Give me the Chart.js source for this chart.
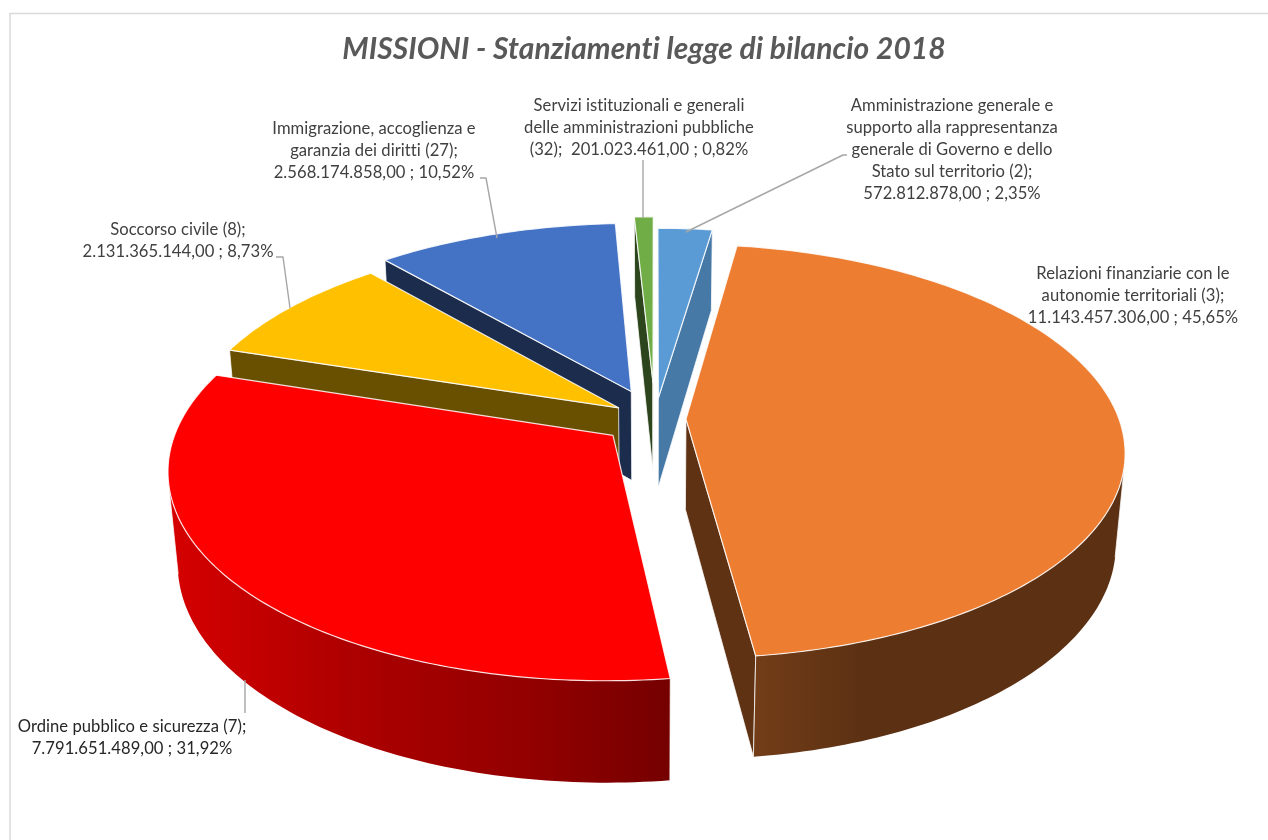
<!DOCTYPE html>
<html>
<head>
<meta charset="utf-8">
<style>
  html, body { margin: 0; padding: 0; background: #fff; overflow: hidden; }
  #wrap { width: 1268px; height: 840px; }
</style>
<script src="https://cdn.jsdelivr.net/npm/chart.js@4"></script>
</head>
<body>
<div id="wrap"><canvas id="pieChart" width="1268" height="840"></canvas></div>
<script>
// Data, clockwise starting from the top of the pie
var categories = [
    'Amministrazione generale e supporto alla rappresentanza generale di Governo e dello Stato sul territorio (2)',
    'Relazioni finanziarie con le autonomie territoriali (3)',
    'Ordine pubblico e sicurezza (7)',
    'Soccorso civile (8)',
    'Immigrazione, accoglienza e garanzia dei diritti (27)',
    'Servizi istituzionali e generali delle amministrazioni pubbliche (32)'
];
var values = [572812878, 11143457306, 7791651489, 2131365144, 2568174858, 201023461];
var labelLines = [
    ['Amministrazione generale e', 'supporto alla rappresentanza', 'generale di Governo e dello', 'Stato sul territorio (2);', '572.812.878,00 ; 2,35%'],
    ['Relazioni finanziarie con le', 'autonomie territoriali (3);', '11.143.457.306,00 ; 45,65%'],
    ['Ordine pubblico e sicurezza (7);', '7.791.651.489,00 ; 31,92%'],
    ['Soccorso civile (8);', '2.131.365.144,00 ; 8,73%'],
    ['Immigrazione, accoglienza e', 'garanzia dei diritti (27);', '2.568.174.858,00 ; 10,52%'],
    ['Servizi istituzionali e generali', 'delle amministrazioni pubbliche', '(32);  201.023.461,00 ; 0,82%']
];

// Styles and layout
var sliceColors = ['#5B9BD5', '#ED7D31', '#FF0000', '#FFC000', '#4472C4', '#70AD47'];
var sliceOffsets = [46, 31, 54, 44, 65, 80];
var cutShades = [0.78, 0.4, 0.4, 0.41, 0.39, 0.4];
var labelCenters = [952, 1133, 132, 178, 374, 639];
var labelTops = [106, 274, 727, 230, 129, 106];
var labelColors = ['#404040', '#404040', '#262626', '#404040', '#404040', '#404040'];
var leaderLines = [
    [[686, 232], [843, 155], [847, 155]],
    null,
    [[245, 680], [245, 713]],
    [[276, 257], [283, 257], [290, 308]],
    [[480, 178], [486, 178], [497, 238]],
    [[643, 160], [643, 218]]
];
var camera = { shiftX: 11, tilt: 27.8 * Math.PI / 180, distance: 2476, thickness: 104 };
// shade of the outer wall along the screen x
var wallShadeStops = [[170, 0.84], [350, 0.68], [550, 0.56], [620, 0.5], [670, 0.46], [753, 0.485], [860, 0.39], [1130, 0.39]];

function project(chartArc, x, y, z) {
    var s = Math.sin(camera.tilt), c = Math.cos(camera.tilt);
    var down = y * s - z * c;
    var depth = y * c + z * s;
    var w = camera.distance / (camera.distance - depth);
    return [chartArc.x + camera.shiftX + x * w, chartArc.y + down * w];
}

function shadeColor(hex, f) {
    var n = parseInt(hex.slice(1), 16);
    return 'rgb(' + Math.round((n >> 16 & 255) * f) + ',' + Math.round((n >> 8 & 255) * f) + ',' + Math.round((n & 255) * f) + ')';
}

function polygon(ctx, pts) {
    ctx.beginPath();
    pts.forEach(function (p, i) { i ? ctx.lineTo(p[0], p[1]) : ctx.moveTo(p[0], p[1]); });
    ctx.closePath();
}

function facing(pts) {
    var area = 0;
    for (var i = 0; i < pts.length; i++) {
        var p = pts[i], q = pts[(i + 1) % pts.length];
        area += p[0] * q[1] - q[0] * p[1];
    }
    return area > 0;
}

function drawSlice(ctx, arc) {
    var o = arc.options, R = arc.outerRadius, H = camera.thickness;
    var mid = (arc.startAngle + arc.endAngle) / 2;
    var ox = Math.cos(mid) * o.offset, oy = Math.sin(mid) * o.offset;
    var steps = Math.max(2, Math.ceil((arc.endAngle - arc.startAngle) / 0.0175));
    var rim = [];
    for (var i = 0; i <= steps; i++) {
        var t = arc.startAngle + (arc.endAngle - arc.startAngle) * i / steps;
        rim.push({ x: ox + Math.cos(t) * R, y: oy + Math.sin(t) * R });
    }
    var first = rim[0], last = rim[steps];
    var top = function (p) { return project(arc, p.x, p.y, 0); };
    var bot = function (p) { return project(arc, p.x, p.y, -H); };
    var apex = { x: ox, y: oy };

    // the two cut faces
    var cut = shadeColor(o.backgroundColor, o.cutShade);
    [[apex, first], [last, apex]].forEach(function (e) {
        var quad = [top(e[0]), top(e[1]), bot(e[1]), bot(e[0])];
        if (!facing(quad)) {
            polygon(ctx, quad);
            ctx.fillStyle = cut;
            ctx.fill();
            ctx.strokeStyle = 'rgba(255,255,255,0.75)';
            ctx.lineWidth = 1;
            ctx.stroke();
        }
    });

    // outer wall: the visible part of the rim as one shape with a gradient
    var visible = [];
    for (var j = 0; j < steps; j++) {
        var quadW = [top(rim[j]), top(rim[j + 1]), bot(rim[j + 1]), bot(rim[j])];
        if (!facing(quadW)) visible.push(j);
    }
    if (visible.length) {
        var from = visible[0], to = visible[visible.length - 1] + 1;
        var part = rim.slice(from, to + 1);
        var wall = part.map(top).concat(part.map(bot).reverse());
        var x0 = wallShadeStops[0][0], x1 = wallShadeStops[wallShadeStops.length - 1][0];
        var grad = ctx.createLinearGradient(x0, 0, x1, 0);
        wallShadeStops.forEach(function (st) {
            grad.addColorStop((st[0] - x0) / (x1 - x0), shadeColor(o.backgroundColor, st[1]));
        });
        polygon(ctx, wall);
        ctx.fillStyle = grad;
        ctx.fill();
        ctx.strokeStyle = 'rgba(255,255,255,0.75)';
        ctx.lineWidth = 1;
        [from, to].forEach(function (k) {
            var p = top(rim[k]), q = bot(rim[k]);
            ctx.beginPath(); ctx.moveTo(p[0], p[1]); ctx.lineTo(q[0], q[1]); ctx.stroke();
        });
    }

    // top face
    var face = [top(apex)].concat(rim.map(top));
    polygon(ctx, face);
    ctx.fillStyle = o.backgroundColor;
    ctx.fill();
    ctx.strokeStyle = 'rgba(255,255,255,0.85)';
    ctx.lineWidth = 1.2;
    ctx.stroke();
}

function sortDepth(arc) {
    var mid = (arc.startAngle + arc.endAngle) / 2;
    return Math.sin(mid) * (arc.options.offset + arc.outerRadius * 0.66);
}

var pie3d = {
    id: 'pie3d',
    beforeDraw: function (chart) {
        var ctx = chart.ctx;
        // small spacing switches off the Lato "ti" ligature
        ctx.letterSpacing = '0.05px';
        ctx.save();
        ctx.fillStyle = '#ffffff';
        ctx.fillRect(0, 0, chart.width, chart.height);
        ctx.strokeStyle = '#d9d9d9';
        ctx.lineWidth = 1.5;
        ctx.beginPath();
        ctx.moveTo(1268, 13.5);
        ctx.lineTo(10, 13.5);
        ctx.lineTo(10, 840);
        ctx.stroke();
        ctx.restore();
    },
    // the pie is drawn here in perspective, the library only gives the arcs
    beforeDatasetsDraw: function (chart) {
        var ctx = chart.ctx;
        var arcs = chart.getDatasetMeta(0).data;
        var order = arcs.map(function (a, i) { return i; }).sort(function (p, q) {
            return sortDepth(arcs[p]) - sortDepth(arcs[q]);
        });
        ctx.save();
        ctx.lineJoin = 'round';
        order.forEach(function (i) {
            arcs[i].options.cutShade = cutShades[i];
            drawSlice(ctx, arcs[i]);
        });
        // leader lines and labels
        ctx.strokeStyle = '#a6a6a6';
        ctx.lineWidth = 1.4;
        leaderLines.forEach(function (line) {
            if (!line) return;
            ctx.beginPath();
            line.forEach(function (p, k) { k ? ctx.lineTo(p[0], p[1]) : ctx.moveTo(p[0], p[1]); });
            ctx.stroke();
        });
        ctx.font = '16.6px Lato';
        ctx.textAlign = 'center';
        ctx.textBaseline = 'middle';
        labelLines.forEach(function (lines, i) {
            ctx.fillStyle = labelColors[i];
            lines.forEach(function (txt, k) {
                ctx.fillText(txt, labelCenters[i], labelTops[i] + k * 22);
            });
        });
        ctx.restore();
        return false;
    }
};

var chart = new Chart(document.getElementById('pieChart').getContext('2d'), {
    type: 'pie',
    data: {
        labels: categories,
        datasets: [{
            data: values,
            backgroundColor: sliceColors,
            offset: sliceOffsets,
            borderWidth: 0
        }]
    },
    options: {
        responsive: false,
        animation: false,
        radius: 433,
        layout: { padding: { left: 20, bottom: 74 } },
        plugins: {
            legend: { display: false },
            tooltip: { enabled: false },
            title: {
                display: true,
                text: 'MISSIONI - Stanziamenti legge di bilancio 2018',
                color: '#595959',
                font: { family: 'Lato', size: 30, weight: 'bold', style: 'italic' },
                padding: { top: 31, bottom: 5 }
            }
        }
    },
    plugins: [pie3d]
});
</script>
</body>
</html>
